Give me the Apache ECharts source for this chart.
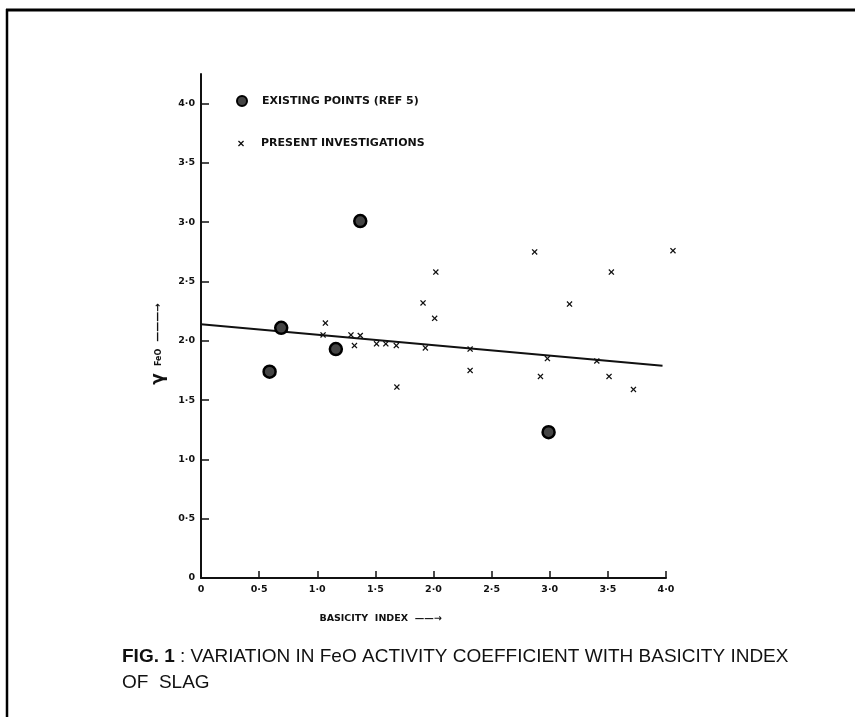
<!DOCTYPE html>
<html>
<head>
<meta charset="utf-8">
<script src="https://cdn.jsdelivr.net/npm/echarts@6/dist/echarts.min.js"></script>
<style>html,body{margin:0;padding:0;background:#fff}#c{width:855px;height:717px}</style>
</head>
<body>
<div id="c"></div>
<script>
// Data
const existingPoints = [[0.59, 1.74], [0.69, 2.11], [1.16, 1.93], [1.37, 3.01], [2.99, 1.23]];
const presentPoints = [
  [1.07, 2.15], [1.05, 2.05], [1.29, 2.05], [1.37, 2.045], [1.32, 1.96],
  [1.51, 1.975], [1.59, 1.975], [1.68, 1.96], [1.685, 1.61], [1.93, 1.94],
  [1.91, 2.32], [2.01, 2.19], [2.02, 2.58], [2.315, 1.93], [2.315, 1.75],
  [2.87, 2.75], [2.92, 1.70], [2.98, 1.85], [3.17, 2.31], [3.53, 2.58],
  [3.51, 1.70], [3.405, 1.83], [3.72, 1.59], [4.06, 2.76]
];
const fitLine = [[0, 2.14], [3.97, 1.79]];
const xTicks = [0, 0.5, 1, 1.5, 2, 2.5, 3, 3.5, 4];
const yTicks = [0, 0.5, 1, 1.5, 2, 2.5, 3, 3.5, 4];
const legendNames = ['EXISTING POINTS (REF 5)', 'PRESENT INVESTIGATIONS'];

const crossPath = 'path://M0,1.5L1.5,0L5,3.5L8.5,0L10,1.5L6.5,5L10,8.5L8.5,10L5,6.5L1.5,10L0,8.5L3.5,5Z';
const fmt = v => (v === 0 ? '0' : v.toFixed(1).replace('.', '·'));
const labelFont = { fontFamily: 'DejaVu Sans', fontWeight: 'bold', fontSize: 9.5, color: '#111' };

const chart = echarts.init(document.getElementById('c'), null, { renderer: 'canvas' });
chart.setOption({
  backgroundColor: '#fff',
  animation: false,
  grid: { left: 201, right: 189, top: 74, bottom: 139, containLabel: false },
  title: {
    left: 117, top: 639,
    text: '{b|FIG. 1} : VARIATION IN FeO ACTIVITY COEFFICIENT WITH BASICITY INDEX\nOF  SLAG',
    textStyle: {
      fontFamily: 'Liberation Sans', fontSize: 19, fontWeight: 'normal', color: '#111', lineHeight: 26,
      rich: { b: { fontFamily: 'Liberation Sans', fontSize: 19, fontWeight: 'bold', color: '#111', lineHeight: 26 } }
    }
  },
  legend: [
    {
      data: [{ name: legendNames[0], icon: 'circle' }],
      left: 231, top: 90, itemWidth: 10, itemHeight: 10,
      textStyle: { fontFamily: 'DejaVu Sans', fontWeight: 'bold', fontSize: 11, color: '#111', padding: [0, 0, 0, 10] },
      selectedMode: false
    },
    {
      data: [{ name: legendNames[1], icon: crossPath }],
      left: 233, top: 133, itemWidth: 6, itemHeight: 6,
      textStyle: { fontFamily: 'DejaVu Sans', fontWeight: 'bold', fontSize: 11, color: '#111', padding: [0, 0, 0, 12] },
      selectedMode: false
    }
  ],
  xAxis: {
    type: 'value', min: 0, max: 4, interval: 0.5,
    name: 'BASICITY  INDEX  ——→',
    nameLocation: 'middle', nameGap: 36,
    nameTextStyle: { fontFamily: 'DejaVu Sans', fontWeight: 'bold', fontSize: 9.5, color: '#111', padding: [0, 106, 0, 0] },
    axisLine: { show: true, lineStyle: { color: '#111', width: 2 } },
    axisTick: { show: true, inside: true, length: 7, lineStyle: { color: '#111', width: 1.5 }, customValues: xTicks },
    axisLabel: Object.assign({ margin: 7, formatter: fmt, customValues: xTicks }, labelFont),
    splitLine: { show: false }
  },
  yAxis: {
    type: 'value', min: 0, max: 4.25, interval: 0.5,
    name: '{g|γ}  {s|FeO}  ———→',
    nameLocation: 'middle', nameGap: 30, nameRotate: 90,
    nameTextStyle: {
      fontFamily: 'DejaVu Sans', fontWeight: 'bold', fontSize: 10, color: '#111',
      padding: [0, 36, 0, 0],
      rich: {
        g: { fontFamily: 'DejaVu Sans', fontSize: 17, color: '#111' },
        s: { fontFamily: 'DejaVu Sans', fontWeight: 'bold', fontSize: 8, color: '#111' }
      }
    },
    axisLine: { show: true, onZero: false, lineStyle: { color: '#111', width: 2 } },
    axisTick: { show: true, inside: true, length: 8, lineStyle: { color: '#111', width: 1.5 }, customValues: yTicks },
    axisLabel: Object.assign({
      margin: 6, customValues: yTicks,
      formatter: v => (Math.abs(v * 2 - Math.round(v * 2)) < 1e-6 ? fmt(v) : '')
    }, labelFont),
    splitLine: { show: false }
  },
  series: [
    {
      name: 'fit', type: 'line', data: fitLine, symbol: 'none',
      lineStyle: { color: '#111', width: 2 }, silent: true, z: 1
    },
    {
      name: legendNames[0], type: 'scatter', data: existingPoints,
      symbol: 'circle', symbolSize: 12,
      itemStyle: { color: '#444', borderColor: '#000', borderWidth: 2.5, opacity: 1 }, z: 3
    },
    {
      name: legendNames[1], type: 'scatter', data: presentPoints,
      symbol: crossPath, symbolSize: 6, clip: false,
      itemStyle: { color: '#111', opacity: 1 }, z: 3
    }
  ],
  graphic: [
    { type: 'line', shape: { x1: 6, y1: 10, x2: 855, y2: 10 }, style: { stroke: '#000', lineWidth: 3 } },
    { type: 'line', shape: { x1: 7, y1: 9, x2: 7, y2: 717 }, style: { stroke: '#000', lineWidth: 2.5 } }
  ]
});
</script>
</body>
</html>
